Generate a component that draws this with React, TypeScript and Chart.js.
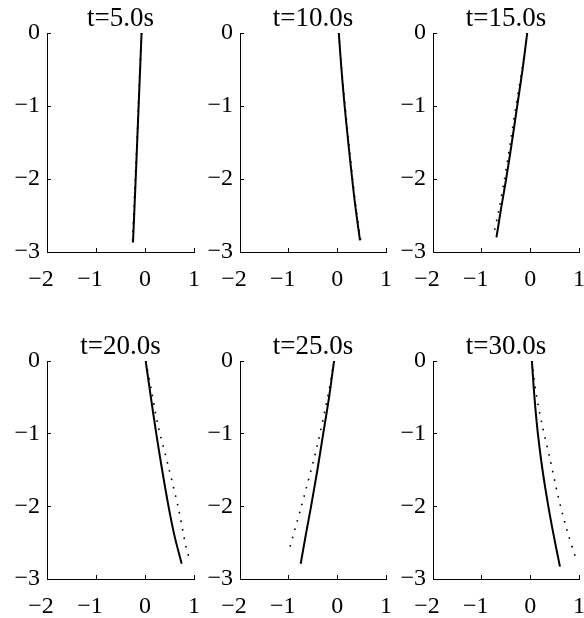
import React, { useEffect, useRef } from "react";
import { Chart, registerables } from "chart.js";

Chart.register(...registerables);

// Snapshot labels
const snapshotTitles = ["t=5.0s", "t=10.0s", "t=15.0s", "t=20.0s", "t=25.0s", "t=30.0s"];

// Axis ranges and tick values
const xTicks = [-2, -1, 0, 1];
const yTicks = [-3, -2, -1, 0];

// Profiles as [x, depth] pairs: solid = computed shape, dotted = reference shape
const solid05: number[][] = [[-0.07, 0], [-0.1, -0.5], [-0.13, -1], [-0.16, -1.5], [-0.19, -2], [-0.215, -2.4], [-0.245, -2.87]];
const dotted05: number[][] = [[-0.07, 0], [-0.105, -0.5], [-0.135, -1], [-0.165, -1.5], [-0.2, -2], [-0.225, -2.4], [-0.255, -2.87]];

const solid10: number[][] = [[0.03, 0], [0.085, -0.5], [0.15, -1], [0.225, -1.5], [0.305, -2], [0.375, -2.4], [0.466, -2.84]];
const dotted10: number[][] = [[0.03, 0], [0.09, -0.5], [0.16, -1], [0.235, -1.5], [0.315, -2], [0.385, -2.4], [0.48, -2.84]];

const solid15: number[][] = [[-0.064, 0], [-0.16, -0.5], [-0.27, -1], [-0.38, -1.5], [-0.497, -2], [-0.6, -2.4], [-0.696, -2.8]];
const dotted15: number[][] = [[-0.064, 0], [-0.17, -0.5], [-0.295, -1], [-0.41, -1.5], [-0.53, -2], [-0.64, -2.4], [-0.751, -2.76]];

const solid20: number[][] = [[0.014, 0], [0.12, -0.5], [0.23, -1], [0.35, -1.5], [0.48, -2], [0.6, -2.4], [0.748, -2.79]];
const dotted20: number[][] = [[0.014, 0], [0.13, -0.4], [0.26, -0.87], [0.48, -1.46], [0.68, -2.02], [0.85, -2.6], [0.918, -2.73]];

const solid25: number[][] = [[-0.068, 0], [-0.17, -0.5], [-0.29, -1], [-0.41, -1.5], [-0.54, -2], [-0.65, -2.4], [-0.753, -2.79]];
const dotted25: number[][] = [[-0.068, 0], [-0.178, -0.43], [-0.411, -1.16], [-0.63, -1.73], [-0.747, -2.02], [-0.986, -2.59]];

const solid30: number[][] = [[0.032, 0], [0.085, -0.5], [0.155, -1], [0.25, -1.5], [0.37, -2], [0.48, -2.4], [0.608, -2.83]];
const dotted30: number[][] = [[0.032, 0], [0.12, -0.45], [0.244, -0.885], [0.395, -1.32], [0.574, -1.87], [0.745, -2.31], [0.938, -2.72]];

const solidProfiles = [solid05, solid10, solid15, solid20, solid25, solid30];
const dottedProfiles = [dotted05, dotted10, dotted15, dotted20, dotted25, dotted30];

// Layout of the 2 x 3 grid (plot-area edges in page pixels)
const colLeft = [47, 240, 433];
const colRight = [194, 386, 579];
const rowTop = [33, 361];
const rowBottom = [252, 579];
const TOP_SPACE = 33;
const Y_AXIS_W = 47;
const X_AXIS_H = 40;
const PAD_RIGHT = 6;

const FONT = '"Liberation Serif", "Times New Roman", Times, serif';
const TICK_SIZE = 24;
const TITLE_SIZE = 27;

const toPoints = (arr: number[][]) => arr.map(([x, y]) => ({ x, y }));

const minus = (v: number) => (v < 0 ? "\u2212" + Math.abs(v) : String(v));

function Panel({ index }: { index: number }) {
  const ref = useRef<HTMLCanvasElement | null>(null);
  const col = index % 3;
  const row = Math.floor(index / 3);
  const L = colLeft[col];
  const R = colRight[col];
  const T = rowTop[row];
  const B = rowBottom[row];
  const width = Y_AXIS_W + (R - L) + PAD_RIGHT;
  const height = TOP_SPACE + (B - T) + X_AXIS_H;
  const top = T - TOP_SPACE;
  const left = L - Y_AXIS_W;

  useEffect(() => {
    const canvas = ref.current;
    if (!canvas) return;
    const title = snapshotTitles[index];

    // Title centred over the plot area, just above its top edge
    const titlePlugin = {
      id: "panelTitle",
      afterDraw(chart: any) {
        const { ctx, chartArea } = chart;
        ctx.save();
        ctx.font = `${TITLE_SIZE}px ${FONT}`;
        ctx.fillStyle = "#000";
        ctx.textAlign = "center";
        ctx.textBaseline = "alphabetic";
        ctx.fillText(title, (chartArea.left + chartArea.right) / 2, chartArea.top - 7);
        ctx.restore();
      },
    };

    const noLabelPadding = (s: any) => {
      s.paddingLeft = 0;
      s.paddingRight = 0;
      s.paddingTop = 0;
      s.paddingBottom = 0;
    };

    const chart = new Chart(canvas, {
      type: "scatter",
      data: {
        datasets: [
          {
            data: toPoints(solidProfiles[index]),
            showLine: true,
            borderColor: "#000",
            borderWidth: 2,
            pointRadius: 0,
            tension: 0.3,
          },
          {
            data: toPoints(dottedProfiles[index]),
            showLine: true,
            borderColor: "#000",
            borderWidth: 1.6,
            borderDash: [1.6, 7],
            pointRadius: 0,
            tension: 0.3,
          },
        ],
      },
      options: {
        animation: false,
        responsive: false,
        events: [],
        layout: { padding: { top: TOP_SPACE, left: 0, right: PAD_RIGHT, bottom: 0 } },
        plugins: { legend: { display: false }, tooltip: { enabled: false }, title: { display: false } },
        scales: {
          x: {
            type: "linear",
            min: xTicks[0],
            max: xTicks[xTicks.length - 1],
            afterBuildTicks: (s: any) => {
              s.ticks = xTicks.map((v) => ({ value: v }));
            },
            afterFit: (s: any) => {
              s.height = X_AXIS_H;
              noLabelPadding(s);
            },
            ticks: {
              autoSkip: false,
              maxRotation: 0,
              padding: 17,
              color: "#000",
              font: { family: FONT, size: TICK_SIZE },
              callback: (v: any) => (v < 0 ? minus(v) + "\u2007" : minus(v)),
            },
            grid: { drawOnChartArea: false, drawTicks: true, tickLength: -4, color: "#000", lineWidth: 1 },
            border: { display: true, color: "#000", width: 1 },
          },
          y: {
            type: "linear",
            min: yTicks[0],
            max: yTicks[yTicks.length - 1],
            afterBuildTicks: (s: any) => {
              s.ticks = yTicks.map((v) => ({ value: v }));
            },
            afterFit: (s: any) => {
              s.width = Y_AXIS_W;
              noLabelPadding(s);
            },
            ticks: {
              autoSkip: false,
              padding: 11,
              color: "#000",
              font: { family: FONT, size: TICK_SIZE },
              callback: (v: any) => minus(v),
            },
            grid: { drawOnChartArea: false, drawTicks: true, tickLength: -4, color: "#000", lineWidth: 1 },
            border: { display: true, color: "#000", width: 1 },
          },
        },
      },
      plugins: [titlePlugin],
    } as any);

    return () => chart.destroy();
  }, [index]);

  return (
    <canvas
      ref={ref}
      width={width}
      height={height}
      style={{ position: "absolute", left, top, width, height, display: "block" }}
    />
  );
}

export default function App() {
  return (
    <div
      style={{
        position: "absolute",
        left: 0,
        top: 0,
        width: 584,
        height: 618,
        overflow: "hidden",
        background: "#fff",
      }}
    >
      {snapshotTitles.map((_, i) => (
        <Panel key={i} index={i} />
      ))}
    </div>
  );
}
